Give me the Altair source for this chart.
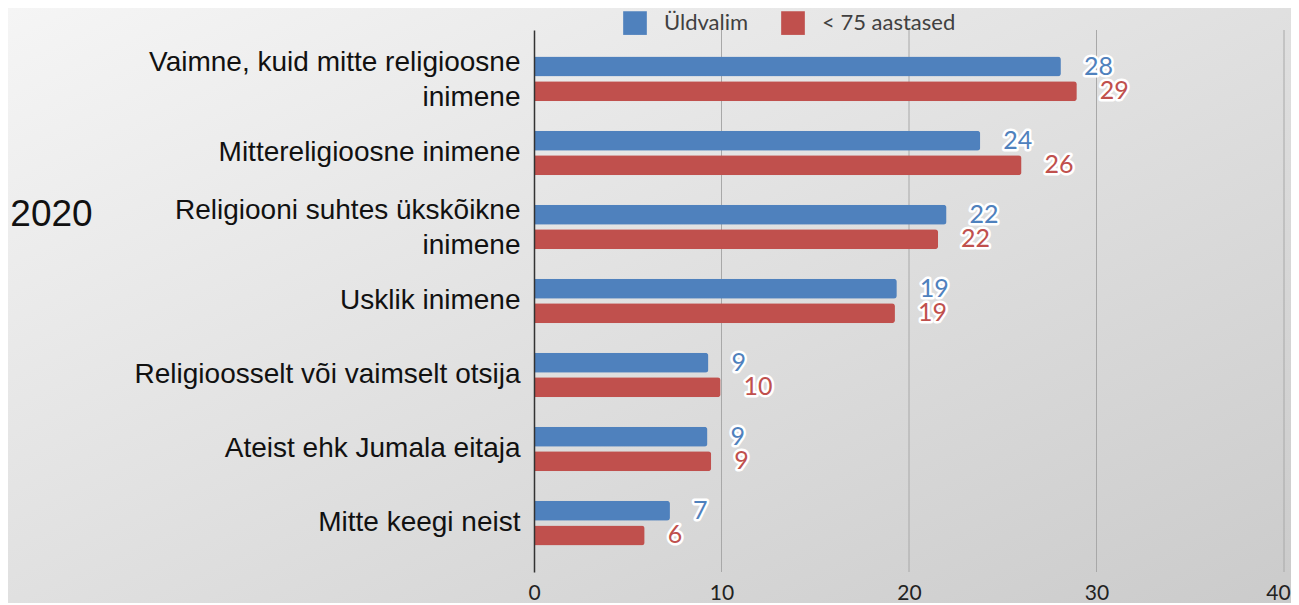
import altair as alt
import pandas as pd

categories = [
    "Vaimne, kuid mitte religioosne|inimene",
    "Mittereligioosne inimene",
    "Religiooni suhtes ükskõikne|inimene",
    "Usklik inimene",
    "Religioosselt või vaimselt otsija",
    "Ateist ehk Jumala eitaja",
    "Mitte keegi neist",
]
series = ["Üldvalim", "< 75 aastased"]
values_all = [28.1, 23.8, 22.0, 19.35, 9.3, 9.25, 7.25]
values_u75 = [28.95, 26.0, 21.55, 19.25, 9.95, 9.45, 5.9]
labels_all = [28, 24, 22, 19, 9, 9, 7]
labels_u75 = [29, 26, 22, 19, 10, 9, 6]
colors = ["#4F81BD", "#C0504D"]
x_ticks = [0, 10, 20, 30, 40]
year_label = "2020"

rows = []
for c, v, l in zip(categories, values_all, labels_all):
    rows.append({"category": c, "series": series[0], "value": v, "label": str(l)})
for c, v, l in zip(categories, values_u75, labels_u75):
    rows.append({"category": c, "series": series[1], "value": v, "label": str(l)})
df = pd.DataFrame(rows)
grid_df = pd.DataFrame({"value": x_ticks[1:]})

W, H = 750, 542
PAD = {"left": 526, "top": 22, "right": 7, "bottom": 31}

bg = alt.Chart(alt.Data(values=[{}])).mark_rect(
    fill=alt.LinearGradient(
        gradient="linear",
        stops=[alt.GradientStop(offset=0, color="#f5f5f5"),
               alt.GradientStop(offset=1, color="#cbcbcb")],
        x1=0, x2=1, y1=0, y2=1,
    )
).encode(
    x=alt.value(-PAD["left"]), x2=alt.value(W + PAD["right"]),
    y=alt.value(-PAD["top"]), y2=alt.value(H + PAD["bottom"]),
)

y_enc = alt.Y(
    "category:N",
    sort=categories,
    scale=alt.Scale(paddingInner=0, paddingOuter=0.16),
    axis=alt.Axis(
        title=year_label,
        titleAngle=0,
        titleX=-483,
        titleY=184,
        titleAlign="center",
        titleBaseline="middle",
        titleFont="Liberation Sans",
        titleFontSize=37,
        titleFontWeight="normal",
        titleColor="#111111",
        labelExpr="split(datum.label, '|')",
        labelFont="Liberation Sans",
        labelFontSize=28,
        labelColor="#111111",
        labelLimit=700,
        labelPadding=14,
        labelLineHeight=35,
        labelOffset={
            "condition": {"test": "indexof(datum.value, '|') >= 0", "value": -16},
            "value": 0,
        },
        ticks=False,
        grid=False,
        domain=True,
        domainColor="#333333",
        domainWidth=1.5,
        zindex=2,
    ),
)
yoff_enc = alt.YOffset(
    "series:N", sort=series,
    scale=alt.Scale(paddingInner=0.18, paddingOuter=0.6),
)
x_scale = alt.Scale(domain=[0, 40], nice=False)
x_enc = alt.X(
    "value:Q",
    scale=x_scale,
    axis=alt.Axis(
        title=None,
        values=x_ticks,
        grid=False,
        domain=False,
        ticks=False,
        labelFlush=False,
        labelFont="Lato",
        labelFontSize=21,
        labelColor="#222222",
        labelPadding=10,
        labelOffset={
            "condition": {"test": "datum.value >= 40", "value": -6},
            "value": 0,
        },
        zindex=2,
    ),
)
color_enc = alt.Color(
    "series:N",
    sort=series,
    scale=alt.Scale(domain=series, range=colors),
    legend=alt.Legend(
        title=None,
        orient="none",
        legendX=89,
        legendY=-19,
        direction="horizontal",
        symbolType="square",
        symbolSize=560,
        symbolStrokeWidth=0,
        labelFont="Lato",
        labelFontSize=22,
        labelColor="#404040",
        labelOffset=17,
        columnPadding=32,
        padding=0,
        zindex=2,
    ),
)

grid = alt.Chart(grid_df).mark_rule(color="#a8a8a8", strokeWidth=1).encode(
    x=alt.X("value:Q", scale=x_scale),
    y=alt.value(0), y2=alt.value(H),
)

base = alt.Chart(df)
bars = base.mark_bar(size=20, cornerRadiusEnd=3).encode(
    y=y_enc, yOffset=yoff_enc, x=x_enc, color=color_enc
)
halo = base.mark_text(
    align="left", baseline="middle", dx=23, font="Lato", fontSize=25,
    fill="white", stroke="white", strokeWidth=5, strokeJoin="round",
).encode(y=y_enc, yOffset=yoff_enc, x=x_enc, text="label:N")
labels = base.mark_text(
    align="left", baseline="middle", dx=23, font="Lato", fontSize=25,
).encode(y=y_enc, yOffset=yoff_enc, x=x_enc, text="label:N", color=color_enc)

chart = alt.layer(bg, grid, bars, halo, labels).properties(
    width=W,
    height=H,
    autosize=alt.AutoSizeParams(type="none"),
    padding=PAD,
    background="#e6e6e6",
).configure_view(stroke=None)

chart.save("out.html", embed_options={"renderer": "svg", "actions": False})
